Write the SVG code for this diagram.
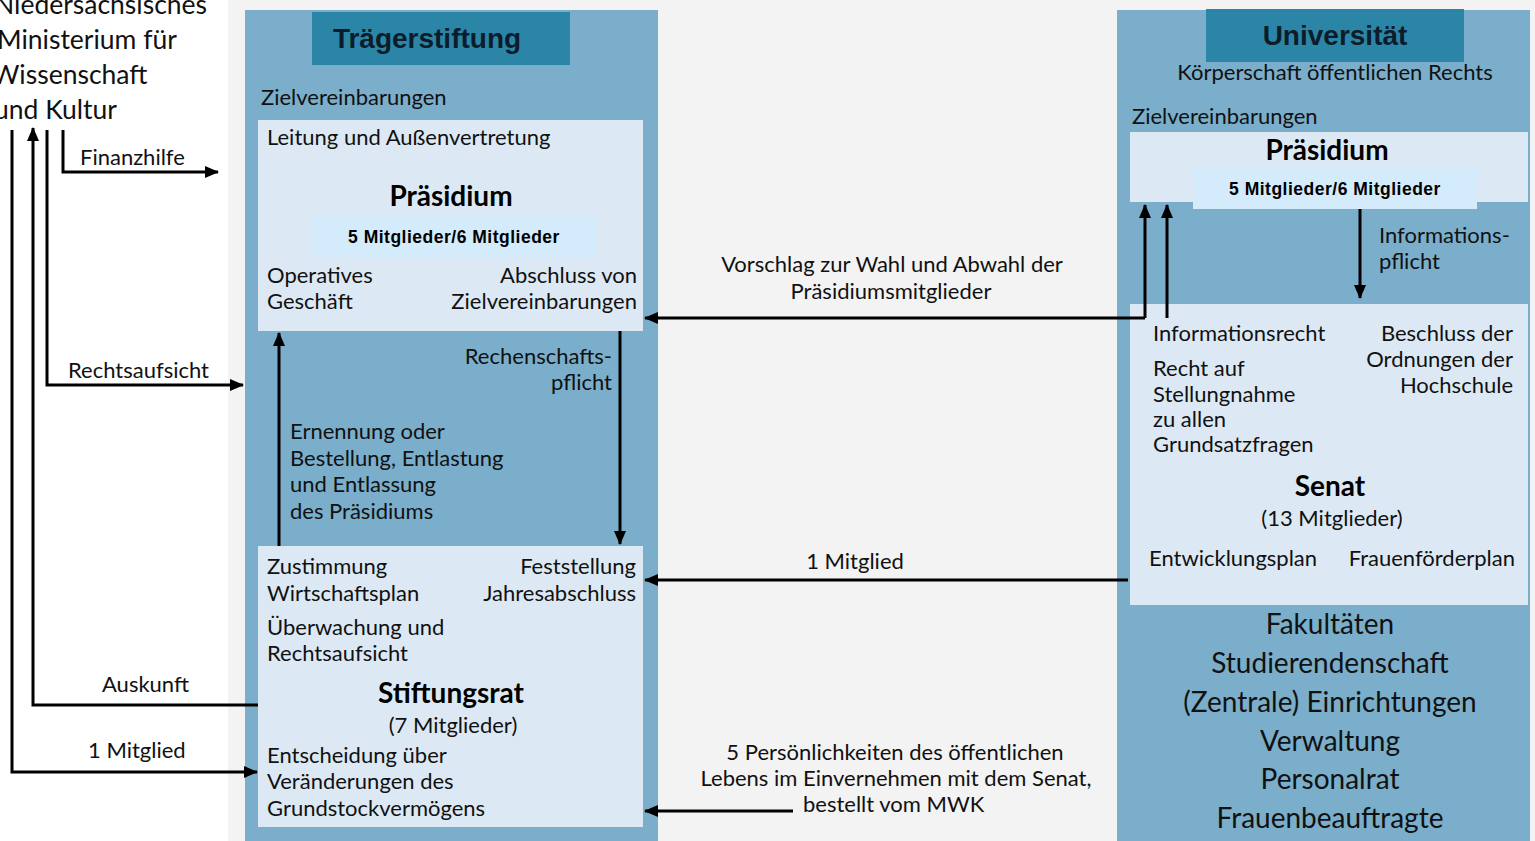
<svg xmlns="http://www.w3.org/2000/svg" width="1535" height="841" viewBox="0 0 1535 841">
<defs>
<marker id="ah" viewBox="0 0 14 12" refX="13" refY="6" markerWidth="14" markerHeight="12" markerUnits="userSpaceOnUse" orient="auto">
<path d="M0,0 L14,6 L0,12 Z" fill="#000"/>
</marker>
<style>
.bg{fill:#f3f3f3}
.outer{fill:#7aaecb}
.title{fill:#2b85a6}
.light{fill:#dce9f5}
.sky{fill:#d3ebfb}
.t{font-family:Lato,"Open Sans","Liberation Sans",sans-serif;font-size:22px;fill:#111}
.tb{font-family:Lato,"Open Sans","Liberation Sans",sans-serif;font-size:28px;font-weight:bold;fill:#000}
.hb{font-family:"Liberation Sans",Arial,sans-serif;font-size:28px;font-weight:bold;fill:#0c1c2a}
.mb{font-family:"Liberation Sans",Arial,sans-serif;font-size:17.5px;font-weight:bold;fill:#000;letter-spacing:0.5px}
.big{font-family:Lato,"Open Sans","Liberation Sans",sans-serif;font-size:28px;fill:#111}
.min{font-family:Lato,"Open Sans","Liberation Sans",sans-serif;font-size:26.5px;fill:#111}
.c{text-anchor:middle}
.e{text-anchor:end}
.ln{fill:none;stroke:#000;stroke-width:3}
</style>
</defs>
<rect x="0" y="0" width="1535" height="841" fill="#fff"/>
<rect class="bg" x="228" y="0" width="1307" height="841"/>

<g id="ministerium">
<text class="min" x="-6" y="14">Niedersächsisches</text>
<text class="min" x="-3" y="49">Ministerium für</text>
<text class="min" x="-8" y="84">Wissenschaft</text>
<text class="min" x="-6" y="119">und Kultur</text>
</g>

<g id="traegerstiftung">
<rect class="outer" x="245" y="10" width="413" height="831"/>
<rect class="title" x="312" y="12" width="258" height="53"/>
<text class="hb c" x="427" y="48">Trägerstiftung</text>
<text class="t" x="261" y="105">Zielvereinbarungen</text>
</g>

<g id="praesidium-stiftung">
<rect class="light" x="258" y="120" width="385" height="211"/>
<text class="t" x="267" y="145">Leitung und Außenvertretung</text>
<text class="tb c" x="451" y="206">Präsidium</text>
<rect class="sky" x="311" y="216" width="285" height="41"/>
<text class="mb c" x="454" y="243">5 Mitglieder/6 Mitglieder</text>
<text class="t" x="267" y="283">Operatives</text>
<text class="t" x="267" y="309">Geschäft</text>
<text class="t e" x="637" y="283">Abschluss von</text>
<text class="t e" x="637" y="309">Zielvereinbarungen</text>
</g>

<g id="stiftungsrat">
<rect class="light" x="258" y="546" width="385" height="281"/>
<text class="t" x="267" y="574">Zustimmung</text>
<text class="t" x="267" y="601">Wirtschaftsplan</text>
<text class="t e" x="636" y="574">Feststellung</text>
<text class="t e" x="636" y="601">Jahresabschluss</text>
<text class="t" x="267" y="635">Überwachung und</text>
<text class="t" x="267" y="661">Rechtsaufsicht</text>
<text class="tb c" x="451" y="703">Stiftungsrat</text>
<text class="t c" x="453" y="733">(7 Mitglieder)</text>
<text class="t" x="267" y="763">Entscheidung über</text>
<text class="t" x="267" y="789">Veränderungen des</text>
<text class="t" x="267" y="816">Grundstockvermögens</text>
</g>

<g id="universitaet">
<rect class="outer" x="1117" y="10" width="413" height="831"/>
<rect class="title" x="1206" y="9" width="258" height="53"/>
<text class="hb c" x="1335" y="45">Universität</text>
<text class="t c" x="1335" y="80">Körperschaft öffentlichen Rechts</text>
<text class="t" x="1132" y="124">Zielvereinbarungen</text>
<text class="big c" x="1330" y="634">Fakultäten</text>
<text class="big c" x="1330" y="673">Studierendenschaft</text>
<text class="big c" x="1330" y="712">(Zentrale) Einrichtungen</text>
<text class="big c" x="1330" y="751">Verwaltung</text>
<text class="big c" x="1330" y="789">Personalrat</text>
<text class="big c" x="1330" y="828">Frauenbeauftragte</text>
</g>

<g id="praesidium-uni">
<rect class="light" x="1130" y="132" width="398" height="70"/>
<text class="tb c" x="1327" y="160">Präsidium</text>
<rect class="sky" x="1193" y="167" width="284" height="42"/>
<text class="mb c" x="1335" y="195">5 Mitglieder/6 Mitglieder</text>
</g>

<g id="senat">
<rect class="light" x="1130" y="304" width="398" height="301"/>
<text class="t" x="1153" y="341">Informationsrecht</text>
<text class="t" x="1153" y="376">Recht auf</text>
<text class="t" x="1153" y="402">Stellungnahme</text>
<text class="t" x="1153" y="427">zu allen</text>
<text class="t" x="1153" y="452">Grundsatzfragen</text>
<text class="t e" x="1513" y="341">Beschluss der</text>
<text class="t e" x="1513" y="367">Ordnungen der</text>
<text class="t e" x="1513" y="393">Hochschule</text>
<text class="tb c" x="1330" y="496">Senat</text>
<text class="t c" x="1332" y="526">(13 Mitglieder)</text>
<text class="t" x="1149" y="566">Entwicklungsplan</text>
<text class="t e" x="1515" y="566">Frauenförderplan</text>
</g>

<g id="connectors">
<path class="ln" d="M63,130 V172 H218" marker-end="url(#ah)"/>
<path class="ln" d="M47,130 V385 H243" marker-end="url(#ah)"/>
<path class="ln" d="M258,705 H33 V128" marker-end="url(#ah)"/>
<path class="ln" d="M12,130 V772 H257" marker-end="url(#ah)"/>
<path class="ln" d="M279,546 V333" marker-end="url(#ah)"/>
<path class="ln" d="M620,331 V544" marker-end="url(#ah)"/>
<path class="ln" d="M1145,318 H645" marker-end="url(#ah)"/>
<path class="ln" d="M1145,318 V205" marker-end="url(#ah)"/>
<path class="ln" d="M1167,318 V205" marker-end="url(#ah)"/>
<path class="ln" d="M1360,209 V298" marker-end="url(#ah)"/>
<path class="ln" d="M1128,580 H645" marker-end="url(#ah)"/>
<path class="ln" d="M793,811 H645" marker-end="url(#ah)"/>
</g>

<g id="labels">
<text class="t" x="80" y="165">Finanzhilfe</text>
<text class="t" x="68" y="378">Rechtsaufsicht</text>
<text class="t" x="102" y="692">Auskunft</text>
<text class="t" x="88" y="758">1 Mitglied</text>
<text class="t e" x="612" y="364">Rechenschafts-</text>
<text class="t e" x="612" y="390">pflicht</text>
<text class="t" x="290" y="439">Ernennung oder</text>
<text class="t" x="290" y="466">Bestellung, Entlastung</text>
<text class="t" x="290" y="492">und Entlassung</text>
<text class="t" x="290" y="519">des Präsidiums</text>
<text class="t c" x="892" y="272">Vorschlag zur Wahl und Abwahl der</text>
<text class="t c" x="891" y="299">Präsidiumsmitglieder</text>
<text class="t c" x="855" y="569">1 Mitglied</text>
<text class="t c" x="895" y="760">5 Persönlichkeiten des öffentlichen</text>
<text class="t c" x="896" y="786">Lebens im Einvernehmen mit dem Senat,</text>
<text class="t" x="803" y="812">bestellt vom MWK</text>
<text class="t" x="1379" y="243">Informations-</text>
<text class="t" x="1379" y="269">pflicht</text>
</g>
</svg>
